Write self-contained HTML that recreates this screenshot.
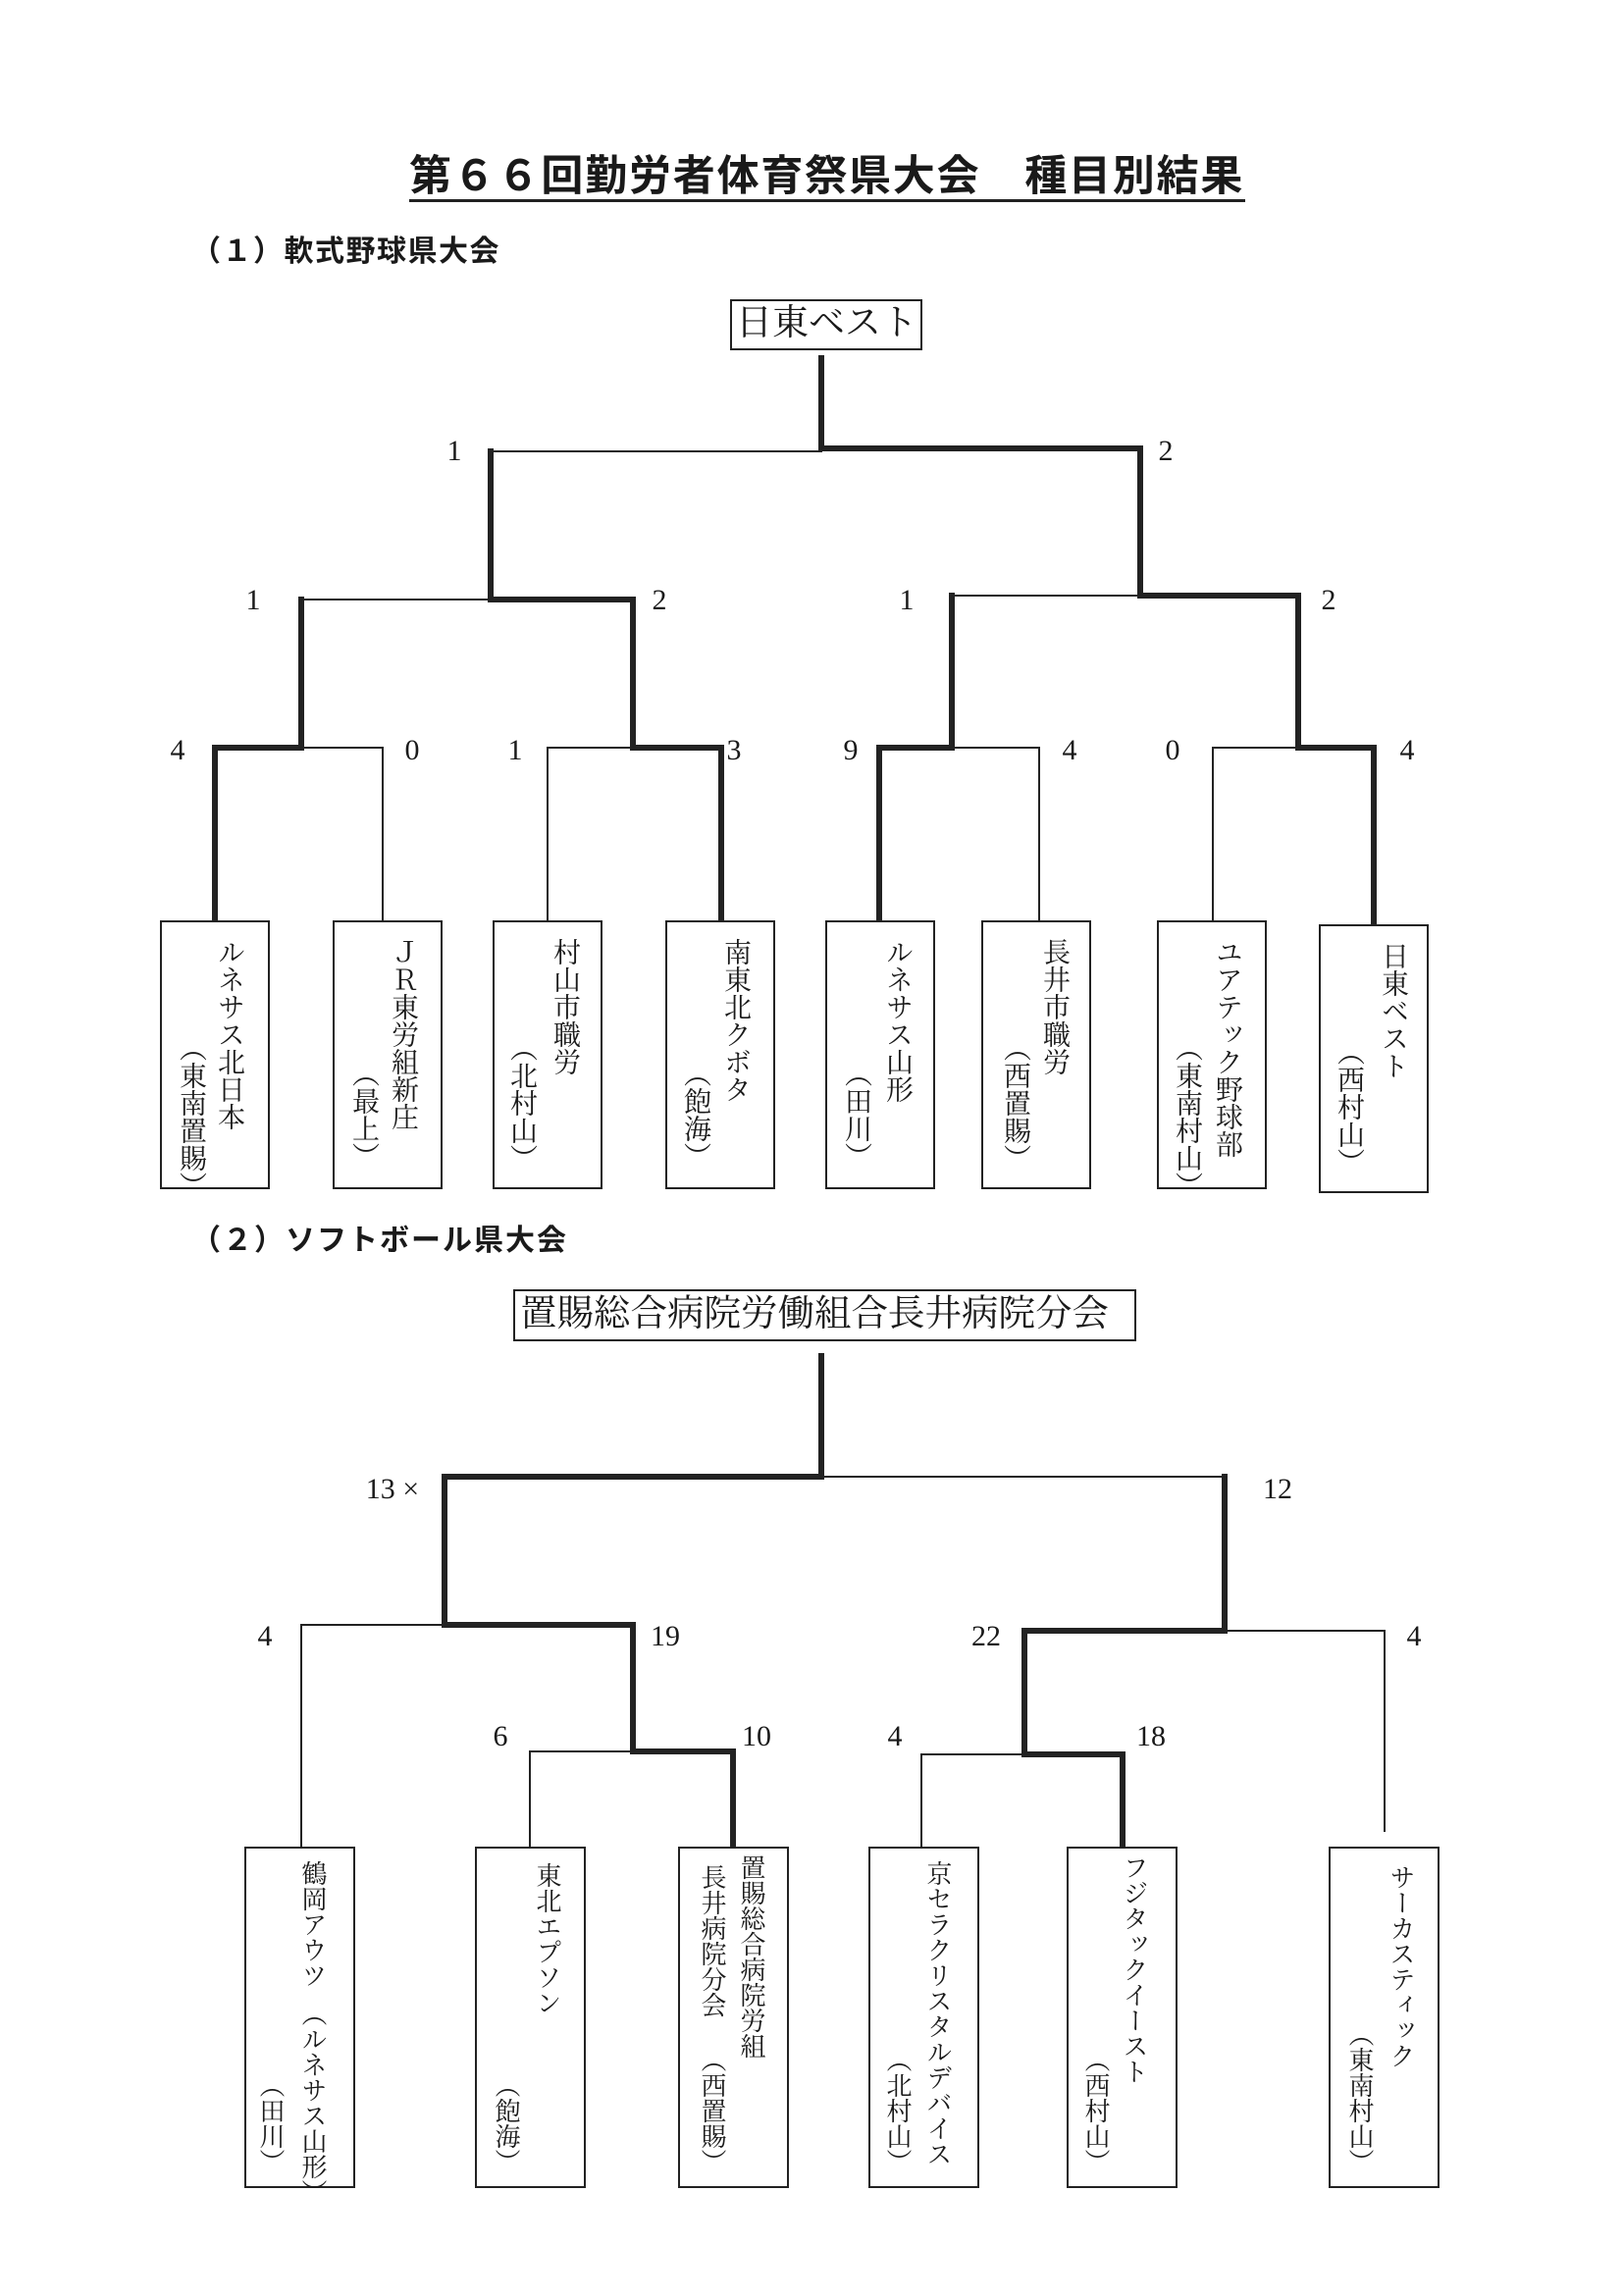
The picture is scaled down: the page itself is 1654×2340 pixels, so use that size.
<!DOCTYPE html>
<html><head><meta charset="utf-8">
<style>
html,body{margin:0;padding:0;background:#fff;}
#pg{position:relative;width:1654px;height:2340px;overflow:hidden;background:#fff;color:#1a1a1a;}
.t{position:absolute;white-space:nowrap;}
.g{font-family:"Liberation Sans","Noto Sans CJK JP",sans-serif;font-weight:bold;}
.s{font-family:"Liberation Serif","Noto Serif CJK JP",serif;}
.lab{position:absolute;font-family:"Liberation Serif","Noto Serif CJK JP",serif;font-size:30px;line-height:30px;transform:translate(-50%,-50%);white-space:nowrap;}
.box{position:absolute;border:2px solid #222;box-sizing:border-box;background:#fff;}
.v{position:absolute;writing-mode:vertical-rl;font-family:"Liberation Serif","Noto Serif CJK JP",serif;white-space:nowrap;line-height:1;}
.b .v{font-size:28px;}
.sb .v{font-size:26px;}
</style></head><body><div id="pg">

<div class="t g" style="left:417px;top:156px;font-size:43px;letter-spacing:1.8px;line-height:48px;">第６６回勤労者体育祭県大会　種目別結果</div>
<div style="position:absolute;left:417px;top:203px;width:852px;height:3px;background:#222;"></div>
<div class="t g" style="left:195px;top:240px;font-size:30px;letter-spacing:1.5px;line-height:34px;">（１）軟式野球県大会</div>
<div class="t g" style="left:195px;top:1248px;font-size:30px;letter-spacing:2px;line-height:34px;">（２）ソフトボール県大会</div>

<div class="box" style="left:744px;top:305px;width:196px;height:52px;"></div>
<div class="t s" style="left:750px;top:309px;font-size:37px;line-height:42px;">日東ベスト</div>
<div class="box" style="left:523px;top:1314px;width:635px;height:53px;"></div>
<div class="t s" style="left:530px;top:1319px;font-size:37.5px;line-height:42px;">置賜総合病院労働組合長井病院分会</div>

<svg width="1654" height="2340" style="position:absolute;left:0;top:0" fill="none" stroke="#222" stroke-linecap="square">
<g stroke-width="6">
<path d="M837 365V457H1162V607M500 460V607M500 611H645V762M307 611V762M1162 607H1323V762M970 607V762"/>
<path d="M219 938V762H307M645 762H735V938M896 938V762H970M1323 762H1400V942"/>
<path d="M837 1382V1505H453V1656H645V1785H747V1880M1248 1505V1662H1044V1788H1144V1880"/>
</g>
<g stroke-width="2">
<path d="M500 460H837M307 611H500M970 607H1162M307 762H390V938M558 938V762H645M970 762H1059V938M1236 938V762H1323"/>
<path d="M837 1505H1248M307 1656H453M307 1656V1882M540 1882V1785H645M1248 1662H1411V1866M939 1882V1788H1044"/>
</g>
</svg>

<div class="lab" style="left:463px;top:460px">1</div>
<div class="lab" style="left:1188px;top:460px">2</div>
<div class="lab" style="left:258px;top:612px">1</div>
<div class="lab" style="left:672px;top:612px">2</div>
<div class="lab" style="left:924px;top:612px">1</div>
<div class="lab" style="left:1354px;top:612px">2</div>
<div class="lab" style="left:181px;top:765px">4</div>
<div class="lab" style="left:420px;top:765px">0</div>
<div class="lab" style="left:525px;top:765px">1</div>
<div class="lab" style="left:748px;top:765px">3</div>
<div class="lab" style="left:867px;top:765px">9</div>
<div class="lab" style="left:1090px;top:765px">4</div>
<div class="lab" style="left:1195px;top:765px">0</div>
<div class="lab" style="left:1434px;top:765px">4</div>

<div class="lab" style="left:400px;top:1518px">13 ×</div>
<div class="lab" style="left:1302px;top:1518px">12</div>
<div class="lab" style="left:270px;top:1668px">4</div>
<div class="lab" style="left:678px;top:1668px">19</div>
<div class="lab" style="left:1005px;top:1668px">22</div>
<div class="lab" style="left:1441px;top:1668px">4</div>
<div class="lab" style="left:510px;top:1770px">6</div>
<div class="lab" style="left:771px;top:1770px">10</div>
<div class="lab" style="left:912px;top:1770px">4</div>
<div class="lab" style="left:1173px;top:1770px">18</div>

<div class="b">
<div class="box" style="left:163px;top:938px;width:112px;height:274px;"></div>
<div class="v" style="left:219px;top:956px;">ルネサス北日本</div>
<div class="v" style="left:180px;top:1054px;">（東南置賜）</div>
<div class="box" style="left:339px;top:938px;width:112px;height:274px;"></div>
<div class="v" style="left:396px;top:956px;">ＪＲ東労組新庄</div>
<div class="v" style="left:356px;top:1080px;">（最上）</div>
<div class="box" style="left:502px;top:938px;width:112px;height:274px;"></div>
<div class="v" style="left:561px;top:956px;">村山市職労</div>
<div class="v" style="left:517px;top:1054px;">（北村山）</div>
<div class="box" style="left:678px;top:938px;width:112px;height:274px;"></div>
<div class="v" style="left:735px;top:956px;">南東北クボタ</div>
<div class="v" style="left:694px;top:1080px;">（飽海）</div>
<div class="box" style="left:841px;top:938px;width:112px;height:274px;"></div>
<div class="v" style="left:900px;top:956px;">ルネサス山形</div>
<div class="v" style="left:858px;top:1080px;">（田川）</div>
<div class="box" style="left:1000px;top:938px;width:112px;height:274px;"></div>
<div class="v" style="left:1060px;top:956px;">長井市職労</div>
<div class="v" style="left:1020px;top:1054px;">（西置賜）</div>
<div class="box" style="left:1179px;top:938px;width:112px;height:274px;"></div>
<div class="v" style="left:1236px;top:956px;">ユアテック野球部</div>
<div class="v" style="left:1195px;top:1054px;">（東南村山）</div>
<div class="box" style="left:1344px;top:942px;width:112px;height:274px;"></div>
<div class="v" style="left:1405px;top:960px;">日東ベスト</div>
<div class="v" style="left:1360px;top:1058px;">（西村山）</div>
</div>

<div class="sb">
<div class="box" style="left:249px;top:1882px;width:113px;height:348px;"></div>
<div class="v" style="left:305px;top:1896px;">鶴岡アウツ　（ルネサス山形）</div>
<div class="v" style="left:262px;top:2112px;">（田川）</div>
<div class="box" style="left:484px;top:1882px;width:113px;height:348px;"></div>
<div class="v" style="left:544px;top:1898px;">東北エプソン</div>
<div class="v" style="left:502px;top:2112px;">（飽海）</div>
<div class="box" style="left:691px;top:1882px;width:113px;height:348px;"></div>
<div class="v" style="left:752px;top:1890px;">置賜総合病院労組</div>
<div class="v" style="left:712px;top:1900px;">長井病院分会</div>
<div class="v" style="left:712px;top:2086px;">（西置賜）</div>
<div class="box" style="left:885px;top:1882px;width:113px;height:348px;"></div>
<div class="v" style="left:942px;top:1896px;">京セラクリスタルデバイス</div>
<div class="v" style="left:901px;top:2086px;">（北村山）</div>
<div class="box" style="left:1087px;top:1882px;width:113px;height:348px;"></div>
<div class="v" style="left:1142px;top:1890px;">フジタックイースト</div>
<div class="v" style="left:1103px;top:2086px;">（西村山）</div>
<div class="box" style="left:1354px;top:1882px;width:113px;height:348px;"></div>
<div class="v" style="left:1414px;top:1900px;">サーカスティック</div>
<div class="v" style="left:1372px;top:2060px;">（東南村山）</div>
</div>

</div></body></html>
